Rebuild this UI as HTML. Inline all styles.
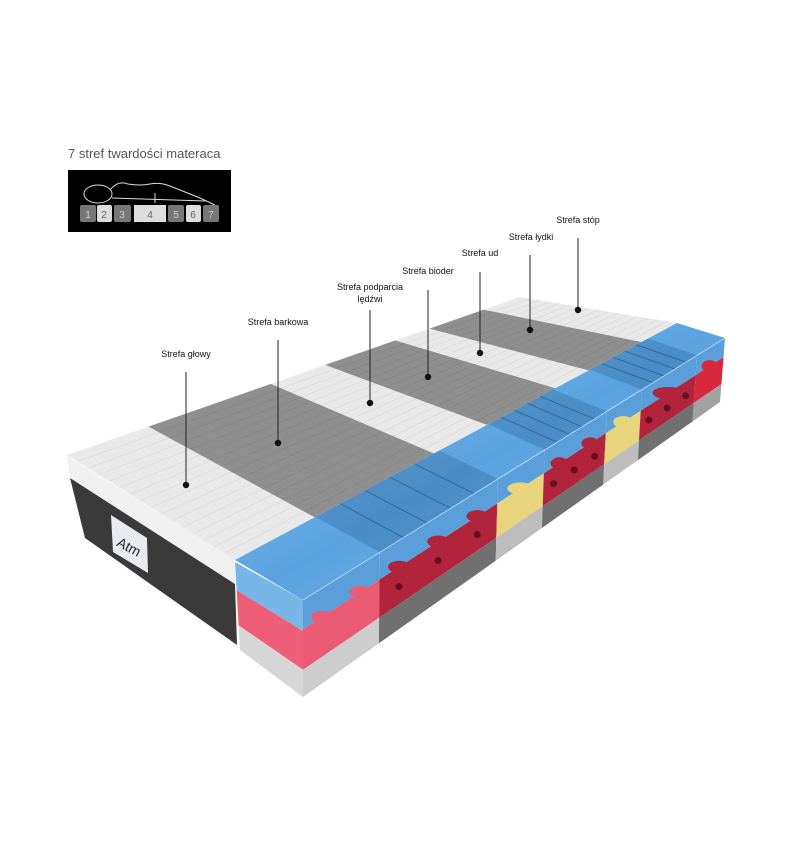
<!DOCTYPE html>
<html><head><meta charset="utf-8"><style>
html,body{margin:0;padding:0;background:#fff;}
svg{display:block;}
text{font-family:"Liberation Sans",sans-serif;}
</style></head><body>
<svg id="s" width="800" height="850" viewBox="0 0 800 850" xmlns="http://www.w3.org/2000/svg">
<defs>
<linearGradient id="bl" x1="0" y1="0" x2="1" y2="1">
<stop offset="0" stop-color="#8cc6f0"/><stop offset="0.5" stop-color="#5aa3e0"/><stop offset="1" stop-color="#7db9ea"/>
</linearGradient>
</defs>
<text x="68" y="158" font-size="13" fill="#555">7 stref twardości materaca</text>
<rect x="68" y="170" width="163" height="62" fill="#000"/>
<ellipse cx="98" cy="194" rx="14" ry="9" fill="none" stroke="#ddd" stroke-width="1"/>
<path d="M110 190 Q118 180 128 184 Q140 186 150 184 Q160 182 170 186 L200 198 L215 205" fill="none" stroke="#ddd" stroke-width="1"/>
<path d="M112 198 L205 201" fill="none" stroke="#ddd" stroke-width="1"/>
<line x1="155" y1="193" x2="155" y2="203" stroke="#ddd"/>
<g font-size="10" text-anchor="middle">
<rect x="80" y="205" width="16" height="17" rx="2" fill="#777"/><text x="88" y="218" fill="#ccc">1</text>
<rect x="97" y="205" width="15" height="17" rx="2" fill="#ddd"/><text x="104" y="218" fill="#666">2</text>
<rect x="114" y="205" width="17" height="17" rx="2" fill="#777"/><text x="122" y="218" fill="#ccc">3</text>
<path d="M134 205 L166 205 L166 222 L134 222 Z" fill="#ddd"/><text x="150" y="218" fill="#666">4</text>
<rect x="168" y="205" width="16" height="17" rx="2" fill="#777"/><text x="176" y="218" fill="#ccc">5</text>
<rect x="186" y="205" width="15" height="17" rx="2" fill="#ddd"/><text x="193" y="218" fill="#666">6</text>
<rect x="203" y="205" width="16" height="17" rx="2" fill="#777"/><text x="211" y="218" fill="#ccc">7</text>
</g>
<g id="m"></g>
<g font-size="9" fill="#111" text-anchor="middle">
<text x="186" y="357">Strefa głowy</text>
<text x="278" y="325">Strefa barkowa</text>
<text x="370" y="290">Strefa podparcia</text>
<text x="370" y="302">lędźwi</text>
<text x="428" y="274">Strefa bioder</text>
<text x="480" y="256">Strefa ud</text>
<text x="531" y="240">Strefa łydki</text>
<text x="578" y="223">Strefa stóp</text>
</g>
<g stroke="#222" stroke-width="1">
<line x1="186" y1="372" x2="186" y2="485"/>
<line x1="278" y1="340" x2="278" y2="443"/>
<line x1="370" y1="310" x2="370" y2="403"/>
<line x1="428" y1="290" x2="428" y2="377"/>
<line x1="480" y1="272" x2="480" y2="353"/>
<line x1="530" y1="255" x2="530" y2="330"/>
<line x1="578" y1="238" x2="578" y2="310"/>
</g>
<g fill="#111">
<circle cx="186" cy="485" r="3.2"/><circle cx="278" cy="443" r="3.2"/><circle cx="370" cy="403" r="3.2"/>
<circle cx="428" cy="377" r="3.2"/><circle cx="480" cy="353" r="3.2"/><circle cx="530" cy="330" r="3.2"/><circle cx="578" cy="310" r="3.2"/>
</g>
</svg>
<script>
(function(){
var g=document.getElementById('m');var NS='http://www.w3.org/2000/svg';
function L(a,b,t){return [a[0]+(b[0]-a[0])*t,a[1]+(b[1]-a[1])*t];}
function poly(pts,fill,extra){var p=document.createElementNS(NS,'polygon');p.setAttribute('points',pts.map(function(q){return q[0].toFixed(1)+','+q[1].toFixed(1)}).join(' '));p.setAttribute('fill',fill);if(extra)for(var k in extra)p.setAttribute(k,extra[k]);g.appendChild(p);return p;}
function line(a,b,st,w){var l=document.createElementNS(NS,'line');l.setAttribute('x1',a[0]);l.setAttribute('y1',a[1]);l.setAttribute('x2',b[0]);l.setAttribute('y2',b[1]);l.setAttribute('stroke',st);l.setAttribute('stroke-width',w||1);g.appendChild(l);}
function circ(c,r,f){var e=document.createElementNS(NS,'circle');e.setAttribute('cx',c[0]);e.setAttribute('cy',c[1]);e.setAttribute('r',r);e.setAttribute('fill',f);g.appendChild(e);}
// dark end face
poly([[67,456],[235,560],[235,584],[70,478]],'#f0f0f0');
poly([[70,478],[235,584],[237,645],[85,538]],'#3a3a3a');
poly([[111,515],[147,538],[148,573],[113,552]],'#e8ecee');
var t=document.createElementNS(NS,'text');t.setAttribute('x','130');t.setAttribute('y','552');t.setAttribute('font-size','14');t.setAttribute('text-anchor','middle');t.setAttribute('fill','#223');t.setAttribute('font-family','Liberation Serif, serif');t.setAttribute('transform','rotate(28 130 545)');t.textContent='Atm';g.appendChild(t);
// cover
var A=[67,455],D=[520,297],R0=[235,560],R1=[677,323];
var u=[0,.18,.45,.57,.725,.80,.92,1];
for(var i=0;i<7;i++){poly([L(A,D,u[i]),L(A,D,u[i+1]),L(R0,R1,u[i+1]),L(R0,R1,u[i])],i%2?'#8f8f8f':'#e9e9e9');}
for(var k=1;k<16;k++){line(L(A,R0,k/16),L(D,R1,k/16),'rgba(0,0,0,0.05)',1);}
// blue top strip
var ST0=[303,600],ST1=[725,338],SB0=[303,697],SB1=[720,402];
poly([R0,R1,ST1,ST0],'url(#bl)');
var segs=[[0,.182,'#ea5a72','#cdcdcd'],[.182,.462,'#b1243c','#707070'],[.462,.573,'#e8d47c','#bdbdbd'],[.573,.72,'#b1243c','#707070'],[.72,.803,'#e8d47c','#bdbdbd'],[.803,.934,'#b1243c','#707070'],[.934,1,'#d9273e','#a2a2a2']];
segs.forEach(function(s){if(s[2]=='#b1243c'){poly([L(R0,R1,s[0]),L(R0,R1,s[1]),L(ST0,ST1,s[1]),L(ST0,ST1,s[0])],'rgba(40,90,140,0.3)');}
 for(var j=1;j<5&&s[2]=='#b1243c';j++){var vv=s[0]+(s[1]-s[0])*j/5;line(L(R0,R1,vv),L(ST0,ST1,vv),'rgba(20,70,120,0.5)',1);} });
// side face
function SP(v,f){return L(L(ST0,ST1,v),L(SB0,SB1,v),f);}
segs.forEach(function(s){
 poly([SP(s[0],0),SP(s[1],0),SP(s[1],.3),SP(s[0],.3)],'#5a9fd9');
 poly([SP(s[0],.3),SP(s[1],.3),SP(s[1],.72),SP(s[0],.72)],s[2]);
 poly([SP(s[0],.72),SP(s[1],.72),SP(s[1],1),SP(s[0],1)],s[3]);
 var n=Math.max(1,Math.round((s[1]-s[0])*11));
 for(var j=0;j<n;j++){var vv=s[0]+(s[1]-s[0])*(j+.5)/n;var c=SP(vv,.3);var e=document.createElementNS(NS,'ellipse');e.setAttribute('cx',c[0]);e.setAttribute('cy',c[1]);e.setAttribute('rx',(s[1]-s[0])*120/n);e.setAttribute('ry',6);e.setAttribute('fill',s[2]);g.appendChild(e);}
 if(s[2]=='#b1243c'){var h=Math.round((s[1]-s[0])*20);h=Math.max(2,Math.min(3,h));for(var j=0;j<h;j++){var vv=s[0]+(s[1]-s[0])*(j+.5)/h;circ(SP(vv,.52),3.5,'#6a0f1f');}}
});
line(SP(0,0),SP(1,0),'rgba(255,255,255,0.5)',1);
// near end face
var E0t=[235,562],E0b=[240,650],E1t=[303,600],E1b=[303,697];
function EP(v,f){return L(L(E0t,E1t,v),L(E0b,E1b,v),f);}
poly([EP(0,0),EP(1,0),EP(1,.32),EP(0,.32)],'#78b6e8');
poly([EP(0,.32),EP(1,.32),EP(1,.72),EP(0,.72)],'#ee5f77');
poly([EP(0,.72),EP(1,.72),EP(1,1),EP(0,1)],'#d6d6d6');
})();
</script>
</body></html>
